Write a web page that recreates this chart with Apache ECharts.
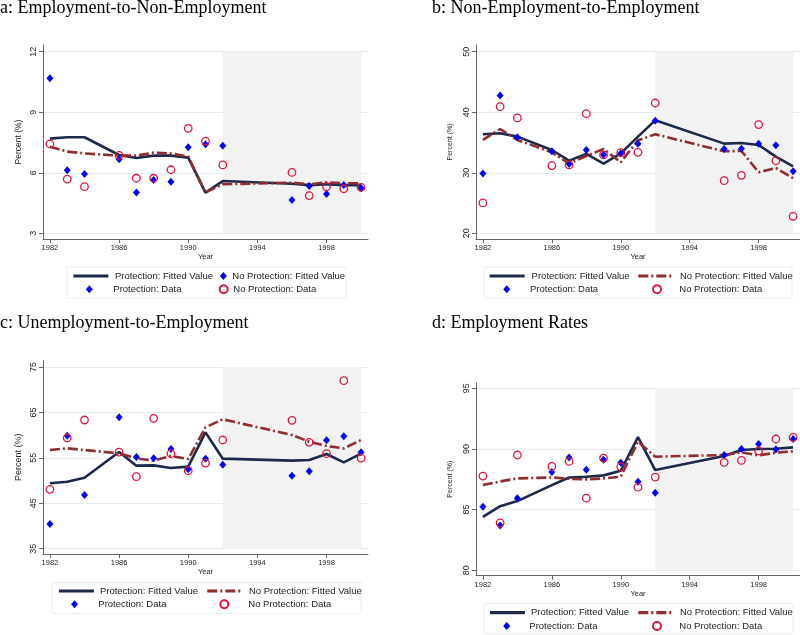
<!DOCTYPE html>
<html>
<head>
<meta charset="utf-8">
<script src="https://cdn.jsdelivr.net/npm/echarts@6/dist/echarts.min.js"></script>
<style>
html,body{margin:0;padding:0;background:#fff;}
#chart{width:800px;height:635px;}
</style>
</head>
<body>
<div id="chart"></div>
<script>
// ---------- data ----------
const years = [1982,1983,1984,1986,1987,1988,1989,1990,1991,1992,1996,1997,1998,1999,2000];
const yearTicks = [1982,1986,1990,1994,1998];
const shadeYears = [1992, 2000];

const seriesNames = ['Protection: Fitted Value','No Protection: Fitted Value','Protection: Data','No Protection: Data'];

// a: Employment-to-Non-Employment
const aFitP  = [7.69,7.76,7.76,6.88,6.73,6.85,6.85,6.75,5.02,5.59,5.46,5.39,5.44,5.39,5.39];
const aFitNP = [7.29,7.05,6.96,6.85,6.85,7.00,6.96,6.80,5.03,5.43,5.51,5.43,5.53,5.48,5.48];
const aDatP  = [10.68,6.12,5.94,6.67,5.02,5.64,5.56,7.26,7.41,7.34,4.65,5.35,4.95,5.39,5.25];
const aDatNP = [7.43,5.69,5.31,6.86,5.73,5.73,6.15,8.20,7.57,6.39,6.02,4.87,5.31,5.21,5.28];
const aTicks = [3,6,9,12];

// b: Non-Employment-to-Employment
const bFitP  = [36.35,36.52,35.97,33.76,32.00,33.10,31.50,33.20,35.97,38.66,34.81,34.92,34.59,32.66,31.07];
const bFitNP = [35.42,37.23,35.42,33.38,31.50,32.77,33.93,31.73,35.36,36.35,33.54,33.60,30.08,30.79,29.09];
const bDatP  = [29.86,42.74,35.86,33.54,31.45,33.76,32.99,33.21,34.81,38.61,33.93,33.98,34.81,34.53,30.24];
const bDatNP = [25.01,40.92,39.05,31.18,31.29,39.76,32.94,33.32,33.38,41.52,28.70,29.58,37.95,32.00,22.81];
const bTicks = [20,30,40,50];

// c: Unemployment-to-Employment
const cFitP  = [49.39,49.75,50.63,56.28,53.28,53.35,52.76,53.06,60.61,54.82,54.38,54.52,55.84,54.00,55.92];
const cFitNP = [56.72,57.09,56.72,55.99,54.89,54.38,55.40,54.74,61.72,63.48,60.03,58.56,57.61,57.09,58.93];
const cDatP  = [40.43,59.88,46.82,63.92,55.18,54.89,56.94,52.47,54.82,53.50,51.07,52.03,58.85,59.73,56.21];
const cDatNP = [48.06,59.37,63.33,56.28,50.85,63.70,55.92,52.17,53.86,58.93,63.26,58.41,55.92,71.99,54.96];
const cTicks = [35,45,55,65,75];

// d: Employment Rates
const dFitP  = [84.40,85.28,85.70,87.02,87.65,87.71,87.82,88.20,90.98,88.26,89.41,89.91,89.99,90.02,90.13];
const dFitNP = [87.02,87.32,87.57,87.65,87.54,87.49,87.57,87.71,90.60,89.36,89.50,89.72,89.47,89.69,89.80];
const dDatP  = [85.23,83.69,85.94,88.09,89.30,88.28,89.11,88.86,87.29,86.38,89.50,89.99,90.40,89.96,90.82];
const dDatNP = [87.76,83.91,89.50,88.56,88.97,85.94,89.25,88.53,86.85,87.68,88.89,89.05,89.83,90.82,90.95];
const dTicks = [80,85,90,95];

// ---------- styles / layout ----------
const NAVY = '#1b2a4a', MAROON = '#8f2d2f', BLUE = '#0000ff', RED = '#d8183e';
const SANS = 'Liberation Sans, Arial, sans-serif';
const SERIF = 'Liberation Serif, Times New Roman, serif';

// legend item layout: [iconLeft, iconW, iconH, textX, rowY] for FitP, DatP, FitNP, DatNP
const panels = [
  {title:'a: Employment-to-Non-Employment', titlePos:[0,-1], vals:[aFitP,aFitNP,aDatP,aDatNP], ticks:aTicks,
   grid:{left:43,top:45,width:325,height:194}, yMin:2.72, yMax:12.33, nameSize:8.5, nameGap:20,
   leg:[[71.7,35,10,113.3,276],[85.8,7,8,113.3,289.3],[219.8,7,8,232.3,276],[218.7,8,8,232.3,289.3]],
   box:[67,267,279,31], quirk:true},
  {title:'b: Non-Employment-to-Employment', titlePos:[432,-1], vals:[bFitP,bFitNP,bDatP,bDatNP], ticks:bTicks,
   grid:{left:476,top:45,width:325,height:194}, yMin:19.06, yMax:51.1, nameSize:7, nameGap:22,
   leg:[[488,35,10,530,276],[503.2,7,8,530,289.3],[636.7,36,10,678.3,276],[652,8,8,678.3,289.3]],
   box:[484,267,308,31], quirk:false},
  {title:'c: Unemployment-to-Employment', titlePos:[0,314], vals:[cFitP,cFitNP,cDatP,cDatNP], ticks:cTicks,
   grid:{left:43,top:360.7,width:325,height:193.3}, yMin:33.83, yMax:76.39, nameSize:9, nameGap:20,
   leg:[[57.3,35,10,98.3,591],[71,7,8,98.3,604.3],[205.7,36,10,247.3,591],[219.3,8,8,247.3,604.3]],
   box:[52,582.7,309,30.6], quirk:false},
  {title:'d: Employment Rates', titlePos:[432,314], vals:[dFitP,dFitNP,dDatP,dDatNP], ticks:dTicks,
   grid:{left:476,top:382.7,width:325,height:193}, yMin:79.55, yMax:95.46, nameSize:7, nameGap:22,
   leg:[[488.3,35,10,529.3,612.7],[503.2,7,8,529.3,626],[636.7,36,10,678.3,612.7],[652,8,8,678.3,626]],
   box:[484,603.3,309,30], quirk:false}
];

const option = {animation:false, backgroundColor:'#fff', title:[], grid:[], xAxis:[], yAxis:[], legend:[], series:[], graphic:[]};

panels.forEach((p, i) => {
  option.title.push({text:p.title, left:p.titlePos[0], top:p.titlePos[1], padding:0,
    textStyle:{fontFamily:SERIF, fontSize:18, fontWeight:'normal', color:'#000'}});
  option.grid.push(Object.assign({containLabel:false}, p.grid));
  option.xAxis.push({type:'value', gridIndex:i, min:1981.6, max:2000.4,
    name:'Year', nameLocation:'middle', nameGap:13,
    nameTextStyle:{fontFamily:SANS, fontSize:7.5, color:'#222'},
    axisLine:{show:true, lineStyle:{color:'#666', width:1}},
    axisTick:{show:true, customValues:yearTicks, length:4, lineStyle:{color:'#666'}},
    axisLabel:{customValues:yearTicks, fontFamily:SANS, fontSize:7.5, color:'#222', margin:5, formatter:v=>String(v)},
    splitLine:{show:false}});
  option.yAxis.push({type:'value', gridIndex:i, min:p.yMin, max:p.yMax,
    name:'Percent (%)', nameLocation:'middle', nameRotate:90, nameGap:p.nameGap,
    nameTextStyle:{fontFamily:SANS, fontSize:p.nameSize, color:'#222'},
    axisLine:{show:true, lineStyle:{color:'#666', width:1}},
    axisTick:{show:true, customValues:p.ticks, length:4, lineStyle:{color:'#666'}},
    axisLabel:{customValues:p.ticks, rotate:90, fontFamily:SANS, fontSize:9, color:'#222', margin:5, formatter:v=>String(v)},
    splitLine:{show:true, lineStyle:{color:'#e3ecef', width:1}}});

  const pts = arr => years.map((y,k) => [y, arr[k]]);
  option.series.push({name:seriesNames[0], type:'line', xAxisIndex:i, yAxisIndex:i, data:pts(p.vals[0]),
    symbol:'none', z:3, lineStyle:{color:NAVY, width:2.6}, itemStyle:{color:NAVY},
    markArea:{silent:true, itemStyle:{color:'#f2f2f2'},
      data:[[{coord:[shadeYears[0], p.ticks[0]]},{coord:[shadeYears[1], p.ticks[p.ticks.length-1]]}]]}});
  option.series.push({name:seriesNames[1], type:'line', xAxisIndex:i, yAxisIndex:i, data:pts(p.vals[1]),
    symbol:'none', z:4, lineStyle:{color:MAROON, width:2.6, type:[10,3,2,3]}, itemStyle:{color:MAROON}});
  option.series.push({name:seriesNames[2], type:'scatter', xAxisIndex:i, yAxisIndex:i, data:pts(p.vals[2]),
    symbol:'diamond', symbolSize:[7,8], z:5, itemStyle:{color:BLUE, opacity:1}});
  option.series.push({name:seriesNames[3], type:'scatter', xAxisIndex:i, yAxisIndex:i, data:pts(p.vals[3]),
    symbol:'circle', symbolSize:7.5, z:6, itemStyle:{color:'rgba(0,0,0,0)', borderColor:RED, borderWidth:1.3, opacity:1}});

  // legend: one component per item
  const order = [0, 2, 1, 3]; // seriesNames index for leg rows
  p.leg.forEach((L, k) => {
    const [left, w, h, textX, rowY] = L;
    const sIdx = order[k];
    let item;
    const isLine = (sIdx === 0 || sIdx === 1) && !(p.quirk && sIdx === 1);
    if (isLine) {
      item = {name:seriesNames[sIdx], itemStyle:{color:'rgba(0,0,0,0)', borderColor:'rgba(0,0,0,0)', borderWidth:0, opacity:0}};
    } else if (p.quirk && sIdx === 1) {
      item = {name:seriesNames[sIdx], icon:'diamond', itemStyle:{color:BLUE, borderWidth:0}};
    } else {
      item = {name:seriesNames[sIdx]};
    }
    const leg = {orient:'vertical', left:left, top:rowY - 5.5, padding:0,
      itemWidth:w, itemHeight:h, selectedMode:false, data:[item],
      textStyle:{fontFamily:SANS, fontSize:9.5, color:'#222', lineHeight:11,
        padding:[0,0,0,Math.max(0, textX - (left + w + 5))]}};
    if (isLine) leg.lineStyle = {width:3.2};
    option.legend.push(leg);
  });

  option.graphic.push({type:'rect', silent:true, z:-1,
    shape:{x:p.box[0], y:p.box[1], width:p.box[2], height:p.box[3]},
    style:{fill:'#fff', stroke:'#e8eef0', lineWidth:1}});
});

const chart = echarts.init(document.getElementById('chart'), null, {renderer:'canvas'});
chart.setOption(option);
</script>
</body>
</html>
